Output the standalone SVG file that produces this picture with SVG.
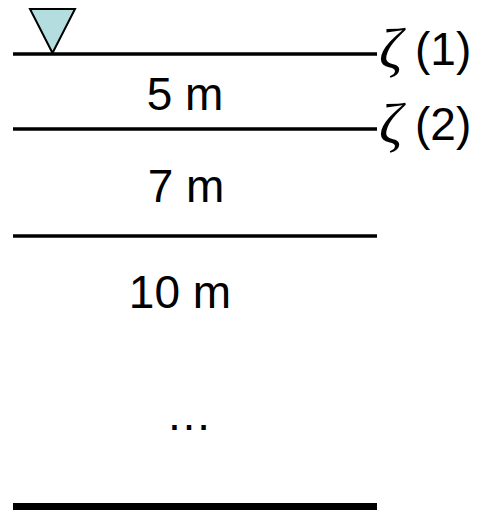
<svg xmlns="http://www.w3.org/2000/svg" width="478" height="510" viewBox="0 0 478 510">
<style>
.ln{stroke:#000;stroke-width:3.5;fill:none}
.t{font-family:"Liberation Sans",Arial,sans-serif;font-size:46px;fill:#000}
.z{font-family:"Liberation Serif","DejaVu Serif",serif;font-style:italic;font-size:58px;fill:#000}
</style>
<rect width="478" height="510" fill="#fff"/>
<g id="layers">
<line class="ln" x1="13" y1="54" x2="377" y2="54"/>
<line class="ln" x1="13" y1="129" x2="377" y2="129"/>
<line class="ln" x1="13" y1="236" x2="377" y2="236"/>
<rect x="13" y="503" width="364" height="7" fill="#000"/>
</g>
<g id="surface">
<polygon points="30,9 75,9 52.5,53" fill="#b4dde0" stroke="#000" stroke-width="2" stroke-linejoin="miter"/>
</g>
<g id="zeta1"><text class="z" x="379" y="68">ζ</text><text class="t" x="415" y="65">(1)</text></g>
<g id="zeta2"><text class="z" x="379" y="143">ζ</text><text class="t" x="415" y="140">(2)</text></g>
<g id="l5"><text class="t" x="185" y="110" text-anchor="middle">5 m</text></g>
<g id="l7"><text class="t" x="186" y="202" text-anchor="middle">7 m</text></g>
<g id="l10"><text class="t" x="180" y="308" text-anchor="middle">10 m</text></g>
<g id="dots"><text class="t" x="189" y="430" text-anchor="middle">…</text></g>
</svg>
